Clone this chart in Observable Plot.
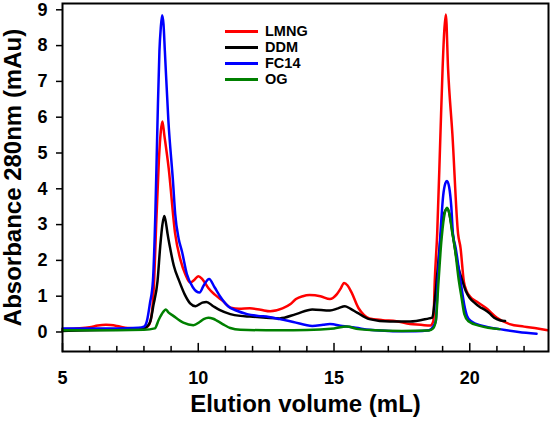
<!DOCTYPE html>
<html>
<head>
<meta charset="utf-8">
<script src="https://cdn.jsdelivr.net/npm/d3@7"></script>
<script src="https://cdn.jsdelivr.net/npm/@observablehq/plot@0.6"></script>
<style>
  body { margin: 0; background: #fff; }
  #wrap { position: relative; width: 550px; height: 425px; }
  #wrap svg { display: block; }
  .legend { position: absolute; left: 225px; top: 23px; font: bold 14.5px "Liberation Sans", Arial, sans-serif; color: #000; }
  .legend .row { display: flex; align-items: center; height: 16px; }
  .legend .sw { width: 33px; height: 3px; margin-right: 7px; }
</style>
</head>
<body>
<div id="wrap"></div>
<script>
// Elution volume (mL), absorbance 280 nm (mAu) pairs
const LMNG = [[5.0,0.08],[5.5,0.1],[6.0,0.13],[6.3,0.18],[6.6,0.2],[7.0,0.17],[7.4,0.11],[7.8,0.1],[8.1,0.14],[8.2,0.22],[8.3,0.6],[8.38,1.5],[8.45,3.0],[8.55,4.8],[8.62,5.6],[8.68,5.88],[8.75,5.5],[8.91,4.58],[9.15,2.74],[9.35,2.0],[9.52,1.62],[9.7,1.38],[9.85,1.45],[10.0,1.56],[10.15,1.48],[10.37,1.23],[10.6,1.05],[10.9,0.87],[11.2,0.68],[11.5,0.65],[11.9,0.66],[12.3,0.62],[12.65,0.58],[13.1,0.66],[13.4,0.78],[13.6,0.92],[13.85,1.0],[14.1,1.03],[14.5,1.0],[14.85,0.92],[15.1,1.05],[15.25,1.22],[15.37,1.37],[15.5,1.3],[15.65,1.1],[15.9,0.67],[16.1,0.48],[16.3,0.38],[16.8,0.33],[17.3,0.3],[17.8,0.22],[18.2,0.2],[18.55,0.18],[18.66,0.31],[18.71,1.42],[18.8,2.74],[18.92,5.53],[19.0,7.37],[19.06,8.4],[19.12,8.87],[19.2,7.37],[19.36,5.53],[19.57,2.74],[19.66,2.35],[19.78,1.42],[19.88,1.15],[20.0,1.0],[20.25,0.85],[20.6,0.67],[21.0,0.4],[21.47,0.22],[22.0,0.15],[22.5,0.1],[22.87,0.05]];
const DDM = [[5.0,0.03],[6.0,0.05],[7.0,0.06],[7.6,0.07],[8.0,0.1],[8.15,0.18],[8.24,0.31],[8.35,0.75],[8.5,1.42],[8.6,2.4],[8.68,3.0],[8.75,3.24],[8.82,3.0],[8.87,2.74],[8.95,2.4],[9.1,1.85],[9.3,1.42],[9.5,1.05],[9.7,0.8],[9.9,0.72],[10.15,0.82],[10.3,0.84],[10.55,0.72],[10.8,0.61],[11.18,0.5],[11.55,0.45],[11.9,0.43],[12.5,0.4],[13.0,0.38],[13.6,0.5],[14.2,0.63],[14.85,0.6],[15.15,0.66],[15.4,0.72],[15.6,0.65],[15.85,0.54],[16.3,0.36],[17.06,0.29],[17.8,0.29],[18.5,0.38],[18.62,0.4],[18.7,0.8],[18.8,1.6],[18.92,2.6],[19.05,3.3],[19.18,3.45],[19.3,3.1],[19.4,2.6],[19.55,1.9],[19.73,1.42],[19.85,1.15],[20.0,0.95],[20.2,0.8],[20.37,0.7],[20.55,0.62],[20.73,0.52],[20.9,0.4],[21.1,0.33],[21.3,0.31]];
const FC14 = [[5.0,0.1],[6.0,0.1],[7.0,0.1],[7.8,0.12],[8.0,0.15],[8.11,0.31],[8.22,0.8],[8.33,1.42],[8.42,3.3],[8.5,5.9],[8.57,7.85],[8.62,8.5],[8.67,8.85],[8.72,8.6],[8.77,7.85],[8.9,5.9],[9.07,4.2],[9.15,3.3],[9.28,2.6],[9.4,2.25],[9.58,1.62],[9.8,1.25],[10.05,1.1],[10.2,1.3],[10.4,1.48],[10.6,1.25],[10.8,1.0],[11.1,0.72],[11.4,0.6],[11.8,0.5],[12.2,0.45],[12.6,0.42],[13.0,0.36],[13.5,0.28],[14.2,0.17],[14.6,0.2],[14.85,0.22],[15.3,0.17],[15.8,0.12],[16.3,0.06],[17.0,0.03],[17.5,0.02],[18.0,0.02],[18.5,0.05],[18.65,0.15],[18.75,0.31],[18.82,1.42],[18.92,2.74],[19.02,3.8],[19.1,4.15],[19.16,4.22],[19.24,4.05],[19.32,3.5],[19.38,2.74],[19.48,2.35],[19.66,1.42],[19.8,0.75],[19.9,0.45],[20.05,0.3],[20.26,0.22],[20.6,0.15],[21.1,0.08],[21.8,0.0],[22.46,-0.05]];
const OG = [[5.0,0.05],[6.0,0.05],[7.0,0.05],[8.0,0.06],[8.4,0.1],[8.55,0.35],[8.7,0.55],[8.8,0.63],[8.9,0.55],[9.08,0.45],[9.45,0.26],[9.82,0.19],[10.05,0.28],[10.2,0.36],[10.37,0.4],[10.55,0.37],[10.7,0.31],[10.95,0.2],[11.18,0.11],[11.55,0.06],[12.5,0.05],[13.5,0.05],[14.5,0.07],[15.0,0.1],[15.47,0.15],[15.9,0.08],[16.5,0.05],[17.5,0.03],[18.5,0.04],[18.65,0.1],[18.75,0.31],[18.85,1.42],[18.95,2.5],[19.05,3.2],[19.16,3.47],[19.25,3.3],[19.35,2.8],[19.45,2.35],[19.6,1.42],[19.7,0.95],[19.8,0.5],[19.95,0.3],[20.37,0.17],[21.1,0.08]];

const seriesNames = ["LMNG", "DDM", "FC14", "OG"];
const seriesColors = ["#ff0000", "#000000", "#0000ff", "#008000"];
const seriesData = [LMNG, DDM, FC14, OG];
const xMajorTicks = [5, 10, 15, 20];
const xMinorTicks = [6, 7, 8, 9, 11, 12, 13, 14, 16, 17, 18, 19, 21, 22];
const yTicks = [0, 1, 2, 3, 4, 5, 6, 7, 8, 9];
const xTitle = "Elution volume (mL)";
const yTitle = "Absorbance 280nm (mAu)";

const rows = seriesNames.flatMap((name, i) => seriesData[i].map(([v, a]) => ({series: name, v, a})));
const font = '"Liberation Sans", Arial, sans-serif';
const tickUp = {draw(context, l) { context.moveTo(0, 0); context.lineTo(0, -l); }};

const chart = Plot.plot({
  width: 550,
  height: 425,
  marginLeft: 62,
  marginRight: 2,
  marginTop: 3,
  marginBottom: 74,
  style: {fontFamily: font, color: "black", background: "white", overflow: "visible"},
  x: {domain: [5, 22.9]},
  y: {domain: [-0.545, 9.176]},
  color: {domain: seriesNames, range: seriesColors},
  marks: [
    Plot.line(rows, {x: "v", y: "a", z: "series", stroke: "series", strokeWidth: 2.5, curve: "monotone-x"}),
    Plot.vector(xMinorTicks, {x: d => d, frameAnchor: "bottom", length: 5, rotate: 0, anchor: "start", shape: tickUp, stroke: "black", strokeWidth: 1.5}),
    Plot.vector(xMajorTicks, {x: d => d, frameAnchor: "bottom", length: 8, rotate: 0, anchor: "start", shape: tickUp, stroke: "black", strokeWidth: 1.5}),
    Plot.frame({stroke: "black", strokeWidth: 2}),
    Plot.axisY({ticks: yTicks, tickSize: 6, tickPadding: 9, fontSize: 18, fontWeight: "bold", label: null, strokeWidth: 1.5}),
    Plot.axisX({ticks: xMajorTicks, tickSize: 0, tickPadding: 20, fontSize: 18, fontWeight: "bold", label: null}),
    Plot.text([yTitle], {frameAnchor: "left", dx: -49, rotate: -90, fontSize: 24, fontWeight: "bold", textAnchor: "middle"}),
    Plot.text([xTitle], {frameAnchor: "bottom", dy: 60, fontSize: 24, fontWeight: "bold"})
  ]
});

const wrap = document.getElementById("wrap");
wrap.appendChild(chart);

const legend = document.createElement("div");
legend.className = "legend";
seriesNames.forEach((name, i) => {
  const row = document.createElement("div");
  row.className = "row";
  const sw = document.createElement("span");
  sw.className = "sw";
  sw.style.background = seriesColors[i];
  const label = document.createElement("span");
  label.textContent = name;
  row.appendChild(sw);
  row.appendChild(label);
  legend.appendChild(row);
});
wrap.appendChild(legend);
</script>
</body>
</html>
